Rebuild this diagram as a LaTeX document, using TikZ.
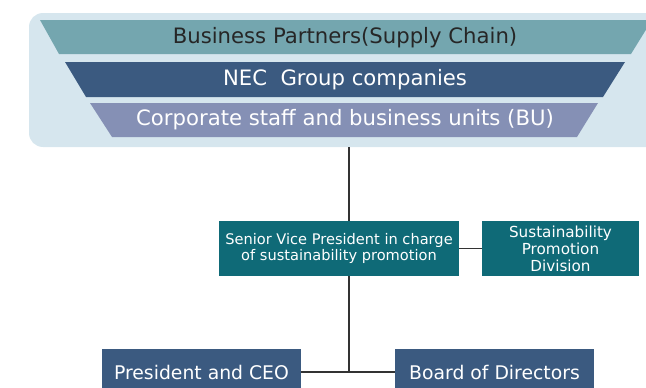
\documentclass[tikz,border=0pt]{standalone}
\usepackage{fontspec}
\setmainfont{DejaVu Sans}
\usetikzlibrary{calc}
\definecolor{bgblue}{HTML}{D6E6EE}
\definecolor{partnerteal}{HTML}{74A6AF}
\definecolor{necnavy}{HTML}{3B5A80}
\definecolor{lavender}{HTML}{8590B5}
\definecolor{necteal}{HTML}{0F6A77}

\begin{document}
\begin{tikzpicture}[x=1pt,y=-1pt,
    box/.style={fill=necnavy,text=white,inner sep=0pt,align=center},
    layer/.style={font=\fontsize{21.2}{24}\selectfont},
    link/.style={draw=black!80,line width=1.4pt}]
       \useasboundingbox(0,0)rectangle(646,388);%全体
       \clip(0,0)rectangle(646,388);
       \fill[bgblue,rounded corners=14pt](29,13)rectangle(690,147);%背景
       \coordinate(bandbottom)at(349,147);%背景の下端

       \fill[partnerteal](40,20)--(652,20)--(631,54)--(59,54)--cycle;%第1段
       \fill[necnavy](65,62)--(625,62)--(603,97)--(86,97)--cycle;%第2段
       \fill[lavender](90,103)--(598,103)--(577,137)--(112,137)--cycle;%第3段
       \node[layer,text=black!85](partners)at(345,37.5)
           {Business Partners(Supply Chain)};
       \node[layer,text=white](group)at(345,79.5)
           {NEC\ \ Group companies};
       \node[layer,text=white](units)at(345,120)
           {Corporate staff and business units (BU)};

       \node[box,fill=necteal,minimum width=240,minimum height=55,
           font=\fontsize{14.6}{16.5}\selectfont](svp)at(339,248.5)
           {Senior Vice President in charge\\of sustainability promotion};%担当役員
       \node[box,fill=necteal,minimum width=157,minimum height=55,
           font=\fontsize{15.2}{17}\selectfont](spd)at(560.5,248.5)
           {Sustainability\\Promotion\\Division};%推進部
       \node[box,minimum width=199,minimum height=46,
           font=\fontsize{18.8}{21}\selectfont](ceo)at(201.5,372){President and CEO};
       \node[box,minimum width=199,minimum height=46,
           font=\fontsize{18.8}{21}\selectfont](board)at(494.5,372){Board of Directors};
       \coordinate(junction)at(ceo.east -| bandbottom);%分岐点

       \draw[link](bandbottom)--(svp.north -| bandbottom);%縦線
       \draw[link](svp.south -| bandbottom)--(junction);
       \draw[link](svp.east)--(spd.west);%横線
       \draw[link](ceo.east)--(board.west);
\end{tikzpicture}
\end{document}
